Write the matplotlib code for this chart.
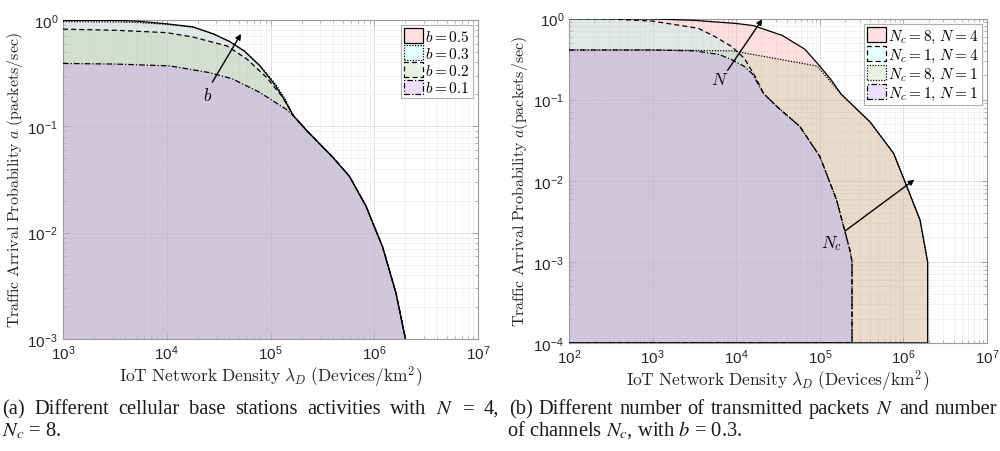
import matplotlib
matplotlib.use("Agg")
import matplotlib.pyplot as plt
import numpy as np
from matplotlib.patches import Patch
from matplotlib.font_manager import FontProperties
from matplotlib.ticker import LogLocator, NullFormatter

plt.rcParams["font.family"] = ["Liberation Sans", "DejaVu Sans"]
plt.rcParams["mathtext.fontset"] = "custom"
plt.rcParams["mathtext.rm"] = "Liberation Sans"
plt.rcParams["mathtext.it"] = "Liberation Sans:italic"
plt.rcParams["mathtext.bf"] = "Liberation Sans:bold"

# ---------------- panel (a): cellular BS activity b, N = 4, Nc = 8 ----------------
a_labels = [r"$b = 0.5$", r"$b = 0.3$", r"$b = 0.2$", r"$b = 0.1$"]

# shared high-density tail of all four curves
a_tail_x = [166000, 224000, 295000, 400000, 575000, 832000, 1200000, 1620000, 2000000]
a_tail_y = [0.126, 0.091, 0.069, 0.051, 0.034, 0.0178, 0.0074, 0.0027, 0.001]

a_b05_x = [1000, 3200, 5000, 10000, 18000, 28000, 40000, 56000, 79000, 112000, 140000]
a_b05_y = [0.99, 0.99, 0.977, 0.92, 0.86, 0.74, 0.63, 0.51, 0.37, 0.24, 0.17]

a_b03_x = [1000, 3200, 5000, 10000, 18000, 28000, 40000, 56000, 79000, 112000, 140000]
a_b03_y = [0.965, 0.96, 0.95, 0.91, 0.855, 0.74, 0.63, 0.51, 0.375, 0.25, 0.178]

a_b02_x = [1000, 3200, 10000, 18000, 38000, 59000, 91000, 130000]
a_b02_y = [0.82, 0.80, 0.76, 0.69, 0.57, 0.43, 0.29, 0.19]

a_b01_x = [1000, 3200, 10700, 25700, 42700, 77600, 141000]
a_b01_y = [0.39, 0.385, 0.37, 0.32, 0.28, 0.21, 0.145]

# ---------------- panel (b): packets N and channels Nc, b = 0.3 ----------------
b_labels = [r"$N_c = 8,\, N = 4$", r"$N_c = 1,\, N = 4$",
            r"$N_c = 8,\, N = 1$", r"$N_c = 1,\, N = 1$"]

# tail shared by the Nc = 8 curves
b_tail8_x = [180000, 400000, 760000, 1100000, 1580000, 1950000]
b_tail8_y = [0.117, 0.053, 0.022, 0.0085, 0.0033, 0.001]

# tail shared by the Nc = 1 curves
b_tail1_x = [21400, 31600, 57500, 100000, 158000, 229000, 243000]
b_tail1_y = [0.118, 0.08, 0.047, 0.020, 0.0059, 0.0014, 0.001]

b_nc8n4_x = [100, 1000, 3200, 10000, 16000, 35500, 66000, 100000, 140000]
b_nc8n4_y = [1.0, 0.99, 0.95, 0.87, 0.82, 0.62, 0.42, 0.26, 0.17]

b_nc1n4_x = [100, 316, 1000, 1410, 3500, 5400, 8900, 12600, 17000]
b_nc1n4_y = [1.0, 0.99, 0.93, 0.88, 0.76, 0.61, 0.45, 0.32, 0.19]

b_nc8n1_x = [100, 1000, 3200, 9100, 36000, 93000]
b_nc8n1_y = [0.41, 0.41, 0.405, 0.40, 0.31, 0.26]

b_nc1n1_x = [100, 1000, 3160, 6300, 8900, 12300, 15500]
b_nc1n1_y = [0.41, 0.41, 0.40, 0.36, 0.31, 0.26, 0.21]

# ---------------- captions ----------------
cap_a_line1 = r"(a) Different cellular base stations activities with $N$ = 4,"
cap_a_line2 = r"$N_c$ = 8."
cap_b_line1 = r"(b) Different number of transmitted packets $N$ and number"
cap_b_line2 = r"of channels $N_c$, with $b$ = 0.3."

# ---------------- styling ----------------
face_colors = [(1.0, 0.53, 0.53), (0.58, 1.0, 1.0), (0.67, 0.79, 0.57), (0.76, 0.51, 1.0)]
face_alpha = 0.25
line_styles = {
    "solid": "-",
    "dot": (0, (1.0, 1.2)),
    "dash": (0, (4.0, 2.5)),
    "dashdot": (0, (4.5, 1.6, 1.0, 1.6)),
}
a_styles = ["solid", "dot", "dash", "dashdot"]
b_styles = ["solid", "dash", "dot", "dashdot"]
spine_grey = "#9a9a9a"
text_dark = "#262626"

W, H = 1000, 452
fig = plt.figure(figsize=(W / 100, H / 100), dpi=100)
ax_a = fig.add_axes([0.063, 0.2478, 0.415, 0.7058])
ax_b = fig.add_axes([0.569, 0.2389, 0.418, 0.7178])


def style_axes(ax, xlim, ylim):
    ax.set_xscale("log")
    ax.set_yscale("log")
    ax.set_xlim(*xlim)
    ax.set_ylim(*ylim)
    ax.set_axisbelow(True)
    ax.xaxis.set_major_locator(LogLocator(base=10, numticks=20))
    ax.yaxis.set_major_locator(LogLocator(base=10, numticks=20))
    ax.xaxis.set_minor_locator(LogLocator(base=10, subs=np.arange(2, 10), numticks=20))
    ax.yaxis.set_minor_locator(LogLocator(base=10, subs=np.arange(2, 10), numticks=20))
    ax.xaxis.set_minor_formatter(NullFormatter())
    ax.yaxis.set_minor_formatter(NullFormatter())
    ax.grid(True, which="major", color="#dcdcdc", lw=0.6)
    ax.grid(True, which="minor", color="#ededed", lw=0.5)
    ax.tick_params(which="both", direction="in", top=True, right=True,
                   color=spine_grey, labelcolor=text_dark, labelsize=11)
    ax.tick_params(which="major", length=4, width=0.6)
    ax.tick_params(which="minor", length=2, width=0.5)
    for s in ax.spines.values():
        s.set_color(spine_grey)
        s.set_linewidth(0.8)


def draw_area(ax, xs, ys, ymin, color, style, outline_bottom):
    xs = list(xs)
    ys = list(ys)
    if ys[-1] > ymin:
        xs.append(xs[-1])
        ys.append(ymin)
    ax.fill_between(xs, ys, ymin, facecolor=color, alpha=face_alpha, lw=0, zorder=2)
    if outline_bottom:
        xs = xs + [xs[0]]
        ys = ys + [ymin]
    ax.plot(xs, ys, color="k", lw=0.9, ls=line_styles[style], zorder=3)


arrow_kw = dict(arrowstyle="-|>", color="k", lw=1.0, mutation_scale=8, shrinkA=0, shrinkB=0)
mark_kw = dict(fontsize=12.5, ha="center", va="center", zorder=5, math_fontfamily="cm")

# panel (a)
style_axes(ax_a, (1e3, 1e7), (1e-3, 1e0))
a_curves = [
    (a_b05_x + a_tail_x, a_b05_y + a_tail_y),
    (a_b03_x + a_tail_x, a_b03_y + a_tail_y),
    (a_b02_x + a_tail_x, a_b02_y + a_tail_y),
    (a_b01_x + a_tail_x, a_b01_y + a_tail_y),
]
for (xs, ys), col, st in zip(a_curves, face_colors, a_styles):
    draw_area(ax_a, xs, ys, 1e-3, col, st, outline_bottom=False)

ax_a.annotate("", xy=(52000, 0.74), xytext=(27500, 0.26), arrowprops=arrow_kw, zorder=5)
ax_a.text(24500, 0.2, r"$b$", **mark_kw)

# panel (b)
style_axes(ax_b, (1e2, 1e7), (1e-4, 1e0))
b_curves = [
    (b_nc8n4_x + b_tail8_x, b_nc8n4_y + b_tail8_y),
    (b_nc1n4_x + b_tail1_x, b_nc1n4_y + b_tail1_y),
    (b_nc8n1_x + b_tail8_x, b_nc8n1_y + b_tail8_y),
    (b_nc1n1_x + b_tail1_x, b_nc1n1_y + b_tail1_y),
]
for (xs, ys), col, st in zip(b_curves, face_colors, b_styles):
    draw_area(ax_b, xs, ys, 1e-4, col, st, outline_bottom=True)

ax_b.annotate("", xy=(20500, 0.98), xytext=(7900, 0.23), arrowprops=arrow_kw, zorder=5)
ax_b.text(6400, 0.18, r"$N$", **mark_kw)
ax_b.annotate("", xy=(1350000, 0.0103), xytext=(200000, 0.0024), arrowprops=arrow_kw, zorder=5)
ax_b.text(140000, 0.00175, r"$N_c$", **mark_kw)

# axis labels
ylab_a = r"$\mathrm{Traffic\ Arrival\ Probability}\ a\ \mathrm{(packets/sec)}$"
ylab_b = r"$\mathrm{Traffic\ Arrival\ Probability}\ a\mathrm{(packets/sec)}$"
xlab = r"$\mathrm{IoT\ Network\ Density}\ \lambda_D\ \mathrm{(Devices/km^2)}$"
lab_kw = dict(color=text_dark, math_fontfamily="cm")
ax_a.set_ylabel(ylab_a, fontsize=11.5, labelpad=2, **lab_kw)
ax_b.set_ylabel(ylab_b, fontsize=11.5, labelpad=2, **lab_kw)
ax_a.set_xlabel(xlab, fontsize=12.5, labelpad=1, **lab_kw)
ax_b.set_xlabel(xlab, fontsize=12.5, labelpad=1, **lab_kw)

# legends
leg_prop = FontProperties(size=11, math_fontfamily="cm")
for ax, labels, styles in ((ax_a, a_labels, a_styles), (ax_b, b_labels, b_styles)):
    handles = [Patch(facecolor=(*c, face_alpha), edgecolor="k", lw=0.9,
                     linestyle=line_styles[s]) for c, s in zip(face_colors, styles)]
    leg = ax.legend(handles, labels, loc="upper right", prop=leg_prop,
                    handlelength=1.2, handleheight=1.1, handletextpad=0.15,
                    labelspacing=0.1, borderpad=0.2, borderaxespad=0.35,
                    fancybox=False, framealpha=1.0, edgecolor="#b0b0b0")
    leg.get_frame().set_linewidth(0.8)
    leg.set_zorder(6)

# captions (two-column style, first lines justified)
cap_kw = dict(fontsize=14.8, family=["Liberation Serif", "DejaVu Serif"],
              math_fontfamily="stix", color="#1a1a1a", va="baseline", ha="left")
renderer = fig.canvas.get_renderer()


def justified_line(text, x0, x1, y):
    words = text.split(" ")
    items = [fig.text(0, y / H, w, **cap_kw) for w in words]
    widths = [t.get_window_extent(renderer).width for t in items]
    gap = (x1 - x0 - sum(widths)) / (len(items) - 1)
    x = x0
    for t, w in zip(items, widths):
        t.set_x(x / W)
        x += w + gap


def plain_line(text, x0, y):
    fig.text(x0 / W, y / H, text, **cap_kw)


base1, base2 = H - 414, H - 436
justified_line(cap_a_line1, 2, 499, base1)
plain_line(cap_a_line2, 2, base2)
justified_line(cap_b_line1, 509, 997, base1)
plain_line(cap_b_line2, 507, base2)

fig.savefig("out.png", dpi=100)
